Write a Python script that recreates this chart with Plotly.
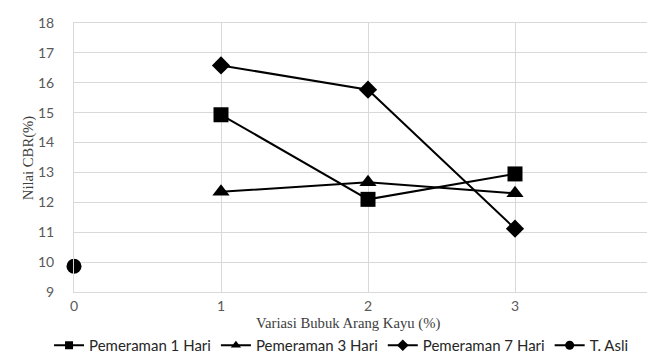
import plotly.graph_objects as go

x_vals = [1, 2, 3]
p1_hari = [14.93, 12.1, 12.95]
p3_hari = [12.35, 12.67, 12.3]
p7_hari = [16.58, 15.77, 11.12]
t_asli_x = [0]
t_asli_y = [9.86]

x_ticks = [0, 1, 2, 3, 4]
y_ticks = [9, 10, 11, 12, 13, 14, 15, 16, 17, 18]

series = [
    ("Pemeraman 1 Hari", x_vals, p1_hari, "square", 15, 8),
    ("Pemeraman 3 Hari", x_vals, p3_hari, "triangle-up", 15, 9),
    ("Pemeraman 7 Hari", x_vals, p7_hari, "diamond", 14, 9),
    ("T. Asli", t_asli_x, t_asli_y, "circle", 15, 9),
]

fig = go.Figure()
for name, xs, ys, sym, size, lsize in series:
    fig.add_trace(go.Scatter(x=xs, y=ys, name=name, mode="lines+markers", showlegend=False,
                             line=dict(color="black", width=2), cliponaxis=False,
                             marker=dict(symbol=sym, size=size, color="black")))
for name, xs, ys, sym, size, lsize in series:
    fig.add_trace(go.Scatter(x=[None], y=[None], name=name, mode="lines+markers",
                             line=dict(color="black", width=2),
                             marker=dict(symbol=sym, size=lsize, color="black")))

grid = "#d9d9d9"
tickfont = dict(family="Lato, Open Sans, sans-serif", size=14, color="#595959")
titlefont = dict(family="Liberation Serif, Times New Roman, serif", size=14.7, color="#404040")
fig.update_layout(
    width=655, height=354,
    margin=dict(l=66, r=1, t=15, b=70),
    paper_bgcolor="white", plot_bgcolor="white",
    showlegend=True,
    legend=dict(orientation="h", x=0.455, xanchor="center", yref="container", y=0.0, yanchor="bottom",
                font=dict(family="Lato, Open Sans, sans-serif", size=15, color="#262626"),
                itemwidth=30, tracegroupgap=0),
    xaxis=dict(range=[0, 4], tickvals=x_ticks, showgrid=True, gridcolor=grid, gridwidth=1,
               zeroline=False, showline=True, linecolor=grid, mirror=True, automargin=False,
               tickfont=tickfont, ticklabelstandoff=1, ticklabeloverflow="allow"),
    yaxis=dict(range=[9, 18], tickvals=y_ticks, showgrid=True, gridcolor=grid, gridwidth=1,
               zeroline=False, showline=True, linecolor=grid, mirror=True, automargin=False,
               tickfont=tickfont, ticklabelstandoff=16),
    annotations=[
        dict(text="Variasi Bubuk Arang Kayu (%)", xref="paper", yref="paper",
             x=0.466, y=-0.117, xanchor="center", yanchor="middle", showarrow=False, font=titlefont),
        dict(text="Nilai CBR(%)", xref="paper", yref="paper", textangle=-90,
             x=-0.077, y=0.5, xanchor="center", yanchor="middle", showarrow=False, font=titlefont),
    ],
)
fig.write_html("out.html")
